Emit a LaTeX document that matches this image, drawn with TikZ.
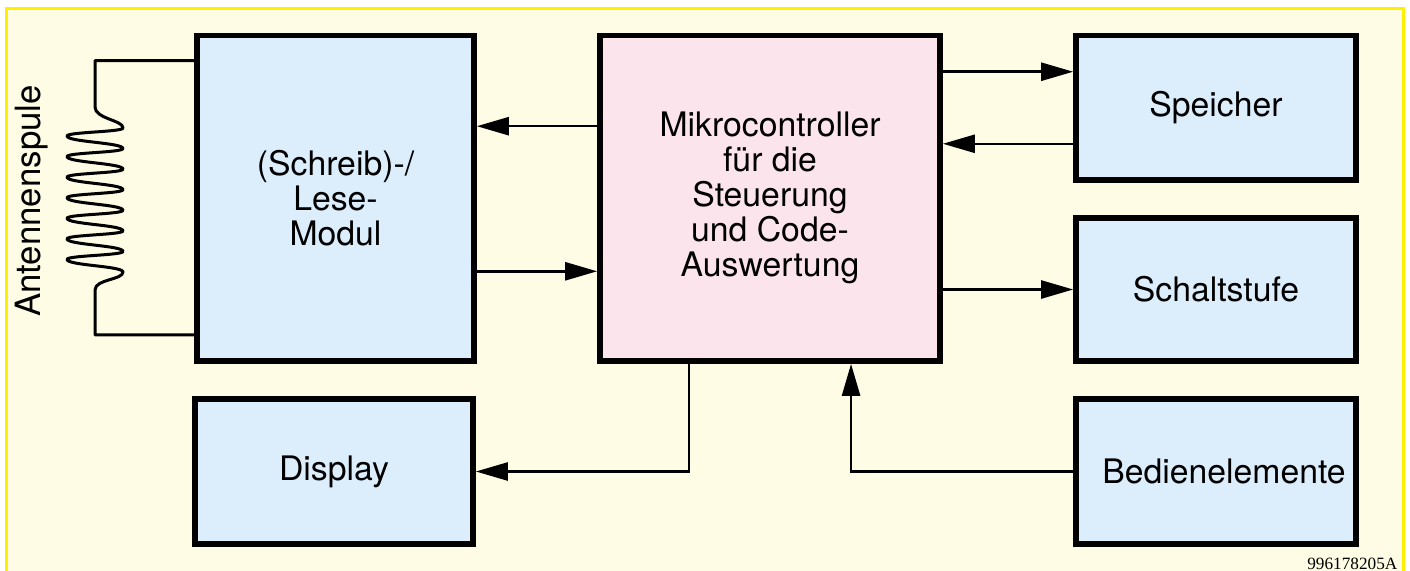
\documentclass[tikz,border=0pt]{standalone}
\usepackage{fontspec}
\usetikzlibrary{arrows.meta}

\newfontfamily\blockfont{TeX Gyre Heros}
\newfontfamily\nrfont{Liberation Serif}

\definecolor{hgrund}{RGB}{254,252,228}
\definecolor{rahmengelb}{RGB}{255,240,0}
\definecolor{blockblau}{RGB}{220,238,252}
\definecolor{blockrosa}{RGB}{252,228,236}

\begin{document}
\begin{tikzpicture}[x=0.01cm,y=-0.01cm,
	block/.style={draw=black, line width=0.055cm, fill=blockblau, inner sep=0pt, align=center,
		font=\blockfont\fontsize{9.6}{9.96}\selectfont},
	pfeil/.style={line width=0.025cm, -{Triangle[length=3.2mm,width=1.8mm]}},
	spule/.style={line width=0.03cm, line join=round}]
	
	\useasboundingbox (0,0) rectangle (1410,570);
	\clip (0,0) rectangle (1410,570);
	\fill[white] (0,0) rectangle (1410,570);
	\draw[line width=0.03cm, draw=rahmengelb, fill=hgrund] (6.5,9) rectangle (1403.5,600);
	
	% Bloecke
	\node[block, minimum width=2.77cm, minimum height=3.255cm] (lese) at (335.5,198.25) {(Schreib)-/\\Lese-\\Modul};
	\node[block, fill=blockrosa, minimum width=3.40cm, minimum height=3.255cm] (mikro) at (770,198.25) {Mikrocontroller\\für die\\Steuerung\\und Code-\\Auswertung};
	\node[block, minimum width=2.80cm, minimum height=1.445cm] (speicher) at (1216,107.75) {Speicher};
	\node[block, minimum width=2.80cm, minimum height=1.43cm] (schalt) at (1216,289.5) {Schaltstufe};
	\node[block, minimum width=2.78cm, minimum height=1.45cm] (display) at (334,471.5) {Display};
	\node[block, minimum width=2.80cm, minimum height=1.45cm] (bedien) at (1216,471.5) {\hspace*{0.16cm}Bedienelemente};
	
	\node[rotate=90, font=\blockfont\fontsize{9.9}{12}\selectfont] (antenne) at (32,201) {Antennenspule};
	
	% Verbindungen
	\draw[pfeil] ([yshift=7.2mm]mikro.west) -- ([yshift=7.2mm]lese.east);
	\draw[pfeil] ([yshift=-7.3mm]lese.east) -- ([yshift=-7.3mm]mikro.west);
	
	\coordinate (sp1) at ([yshift=3.6mm]speicher.west);
	\coordinate (sp2) at ([yshift=-3.6mm]speicher.west);
	\draw[pfeil] (sp1 -| mikro.east) -- (sp1);
	\draw[pfeil] (sp2) -- (sp2 -| mikro.east);
	\draw[pfeil] (schalt.west -| mikro.east) -- (schalt.west);
	
	\draw[pfeil] ([xshift=-8.1mm]mikro.south) |- (display.east);
	\draw[pfeil] (bedien.west) -| ([xshift=8.1mm]mikro.south);
	
	% Spule
	\coordinate (anschlussOben) at ([yshift=-2.8mm]lese.north west);
	\coordinate (anschlussUnten) at ([yshift=2.9mm]lese.south west);
	\draw[spule] (anschlussOben) -| (95,107) .. controls (95,119) and (123,120) .. (123,128)
		\foreach \k in {0,...,6} {
			.. controls (123,{132+20.57*\k}) and (67,{132+20.57*\k}) .. (67,{136+20.57*\k})
			.. controls (67,{142+20.57*\k}) and (123,{142.57+20.57*\k}) .. (123,{148.57+20.57*\k})
		}
		.. controls (123,280) and (95,279) .. (95,290) |- (anschlussUnten);
	
	\node[anchor=base east, inner sep=0pt, font=\nrfont\fontsize{4.9}{6}\selectfont] (nummer) at (1398,569) {996178205A};
	
\end{tikzpicture}
\end{document}
